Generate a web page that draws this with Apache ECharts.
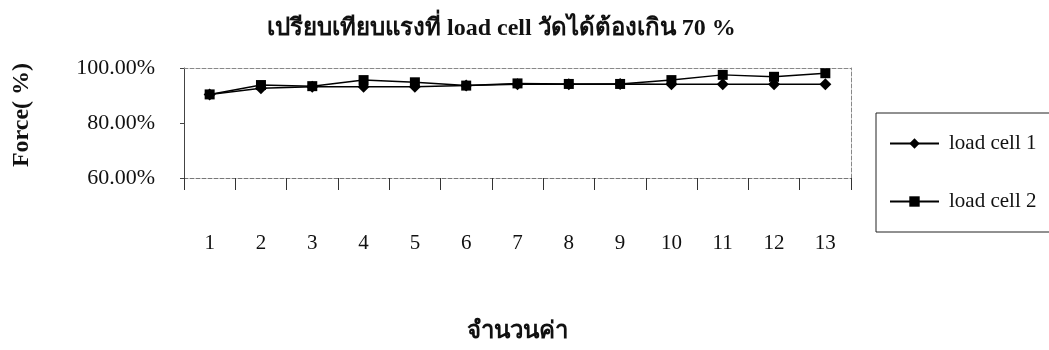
<!DOCTYPE html>
<html>
<head>
<meta charset="utf-8">
<script src="https://cdn.jsdelivr.net/npm/echarts@6/dist/echarts.min.js"></script>
<style>
  html, body { margin: 0; padding: 0; background: #fff; }
  #chart { width: 1049px; height: 350px; }
</style>
</head>
<body>
<div id="chart"></div>
<script>
// Measurement index (จำนวนค่า) and force readings in percent
const categories = ['1', '2', '3', '4', '5', '6', '7', '8', '9', '10', '11', '12', '13'];
const loadCell1 = [90.4, 92.6, 93.2, 93.2, 93.2, 93.6, 94.1, 94.1, 94.2, 94.1, 94.1, 94.1, 94.1];
const loadCell2 = [90.4, 93.8, 93.4, 95.6, 94.8, 93.6, 94.4, 94.2, 94.2, 95.6, 97.5, 96.8, 98.1];
const seriesNames = ['load cell 1', 'load cell 2'];
const yTicks = { min: 60, max: 100, step: 20 };

const serif = '"Liberation Serif", "Times New Roman", "DejaVu Serif", serif';

const chart = echarts.init(document.getElementById('chart'));
chart.setOption({
  backgroundColor: '#fff',
  animation: false,
  title: {
    text: 'เปรียบเทียบแรงที่ load cell วัดได้ต้องเกิน 70 %',
    left: 262,
    top: 12,
    textStyle: { fontFamily: serif, fontSize: 24, fontWeight: 'bold', color: '#111' }
  },
  legend: {
    orient: 'vertical',
    left: 876,
    top: 113,
    padding: [20, 60, 20, 13],
    itemGap: 37,
    itemWidth: 49,
    itemHeight: 13,
    borderColor: '#222',
    borderWidth: 1,
    textStyle: { fontFamily: serif, fontSize: 21, color: '#111', padding: [0, 0, 0, 5] },
    data: seriesNames
  },
  grid: { left: 184, right: 198, top: 68, bottom: 172 },
  xAxis: [{
    type: 'category',
    data: categories,
    boundaryGap: true,
    name: 'จำนวนค่า',
    nameLocation: 'middle',
    nameGap: 142,
    nameTextStyle: { fontFamily: serif, fontSize: 24, fontWeight: 'bold', color: '#111' },
    axisLine: { lineStyle: { color: '#777', type: 'dashed', width: 1 } },
    axisTick: { show: true, length: 12, lineStyle: { color: '#333' } },
    axisLabel: { fontFamily: serif, fontSize: 21, color: '#111', margin: 55 }
  }, {
    type: 'category',
    data: categories,
    position: 'top',
    axisLine: { lineStyle: { color: '#888', type: 'dashed', width: 1 } },
    axisTick: { show: false },
    axisLabel: { show: false }
  }],
  yAxis: [{
    type: 'value',
    min: yTicks.min,
    max: yTicks.max,
    interval: yTicks.step,
    name: 'Force( %)',
    nameLocation: 'middle',
    nameGap: 150,
    nameRotate: 90,
    nameTextStyle: { fontFamily: serif, fontSize: 24, fontWeight: 'bold', color: '#111', padding: [0, 0, 0, 16] },
    axisLine: { show: true, lineStyle: { color: '#444', width: 1 } },
    axisTick: { show: true, length: 4, lineStyle: { color: '#444' } },
    splitLine: { show: false },
    axisLabel: {
      fontFamily: serif, fontSize: 22, color: '#111', margin: 29,
      formatter: v => v.toFixed(2) + '%'
    }
  }, {
    type: 'value',
    min: yTicks.min,
    max: yTicks.max,
    interval: yTicks.step,
    position: 'right',
    axisLine: { show: true, lineStyle: { color: '#888', type: 'dashed', width: 1 } },
    axisTick: { show: false },
    axisLabel: { show: false },
    splitLine: { show: false }
  }],
  series: [{
    name: seriesNames[0],
    type: 'line',
    data: loadCell1,
    symbol: 'diamond',
    symbolSize: 12,
    itemStyle: { color: '#000' },
    lineStyle: { color: '#000', width: 1.5 }
  }, {
    name: seriesNames[1],
    type: 'line',
    data: loadCell2,
    symbol: 'rect',
    symbolSize: 10,
    itemStyle: { color: '#000' },
    lineStyle: { color: '#000', width: 1.5 }
  }]
});
</script>
</body>
</html>
